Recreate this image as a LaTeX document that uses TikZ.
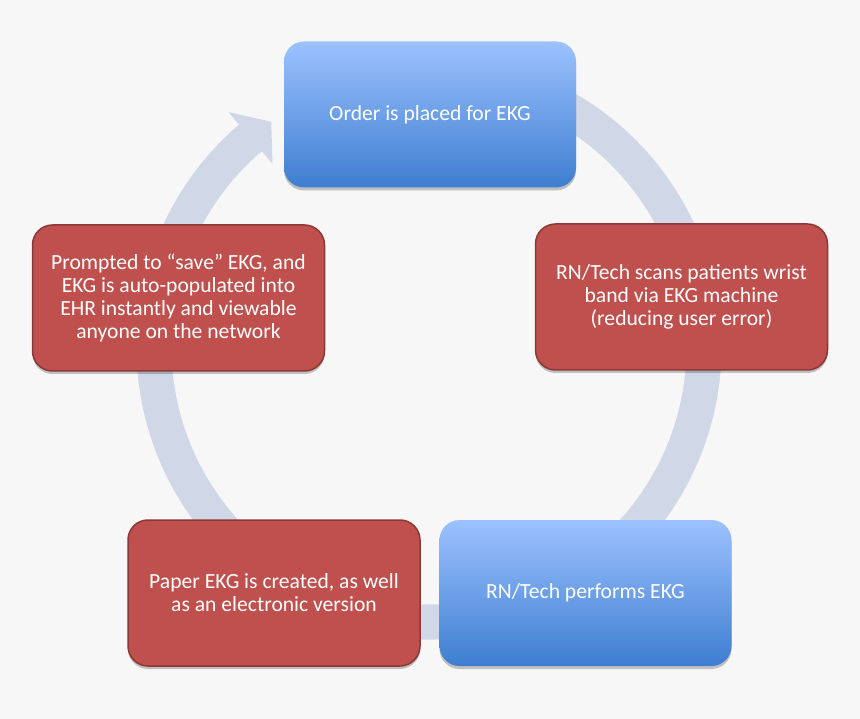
\documentclass[tikz,border=0pt]{standalone}
\usepackage{fontspec}
\setmainfont{Carlito}
\usetikzlibrary{shadows}
\definecolor{bg}{HTML}{F7F7F7}
\definecolor{ringc}{HTML}{D0D8E7}
\definecolor{redf}{HTML}{C0504D}
\definecolor{redd}{HTML}{8C3836}
\definecolor{bluet}{HTML}{9CC2FF}
\definecolor{blueb}{HTML}{3E7ED0}
\begin{document}
\begin{tikzpicture}[x=1pt,y=-1pt,
  box/.style={rounded corners=20pt, minimum width=292pt, minimum height=146pt,
    align=center, text=white, font=\fontsize{21.6}{23}\selectfont, inner sep=0pt,
    drop shadow={shadow xshift=0pt, shadow yshift=-3pt, opacity=0.22, fill=black}},
  bluebox/.style={box, top color=bluet, bottom color=blueb, draw=none},
  redbox/.style={box, fill=redf, draw=redd, line width=1.5pt}]
\fill[bg] (0,0) rectangle (860,719);
\useasboundingbox (0,0) rectangle (860,719);
% circular arrow
\begin{scope}[shift={(429,347)}]
\fill[ringc] (-70:292.5) arc[start angle=-70, end angle=229.5, radius=292.5]
  -- (229.5:309) -- (235:275) -- (229.5:241) -- (229.5:257.5)
  arc[start angle=229.5, end angle=-70, radius=257.5] -- cycle;
\end{scope}
% boxes
\node[bluebox] (order) at (430,114.5) {Order is placed for EKG};
\node[redbox] (scan) at (681.5,297) {RN/Tech scans patients wrist\\band via EKG machine\\(reducing user error)};
\node[bluebox] (perf) at (585.5,593) {RN/Tech performs EKG};
\node[redbox] (paper) at (274,593) {Paper EKG is created, as well\\as an electronic version};
\node[redbox] (save) at (178.5,298) {Prompted to “save” EKG, and\\EKG is auto-populated into\\EHR instantly and viewable\\anyone on the network};
\end{tikzpicture}
\end{document}
